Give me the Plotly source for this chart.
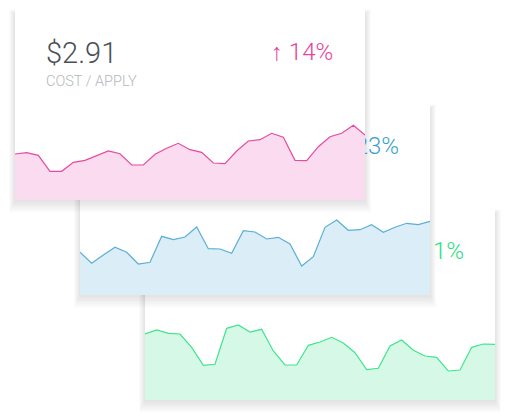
import plotly.graph_objects as go

W, H = 510, 420

# ---- data ----
pink_vals = [46, 47.3, 44.7, 28.7, 28.7, 37.7, 39.7, 44.3, 49, 46.3, 35, 35, 45.7, 51.7,
             56.7, 50.3, 47.7, 37, 36.3, 49, 59, 60.3, 66.7, 62.7, 39.7, 39.3, 53.3, 63.3,
             66.7, 74.7, 65]
blue_vals = [42.7, 31.7, 40, 47.7, 42.7, 31, 32.7, 58.7, 55.3, 58, 68, 46.3, 46, 41.7,
             64.3, 63, 56, 57.7, 51, 29, 38.3, 67.7, 75, 64.7, 65.3, 70.3, 62.7, 67.7,
             71.7, 70.3, 73.7]
green_vals = [66, 70, 66.7, 66, 52.7, 34.7, 35.7, 71.7, 75, 68, 70.7, 49, 35, 35, 54.7,
              58, 62.7, 57, 47.3, 30.3, 31.7, 54, 60, 49.7, 44, 42.7, 29, 30, 52.7, 56,
              55.7]
card_values = ["$2.91", "", ""]
card_labels = ["COST / APPLY", "", ""]
card_changes = ["\u2191 14%", "\u2191 23%", "\u2191 11%"]

series = [pink_vals, blue_vals, green_vals]
line_colors = ["#e84a9e", "#5aafd6", "#3ee58c"]
fill_colors = ["#fadbef", "#dbedf6", "#d6f9e7"]
text_colors = ["#e8439b", "#3a9fd0", "#2fe07f"]

# card geometry (pixels)
CW, CH = 350, 190
origins = [(15, 10), (80, 105), (145, 210)]


def fx(x):
    return x / W


def fy(y):
    return 1 - y / H


fig = go.Figure()
shapes = []
# draw bottom card first
for i in [2, 1, 0]:
    x0, y0 = origins[i]
    x1, y1 = x0 + CW, y0 + CH
    # soft shadow, mostly below the card
    for k in range(9):
        e = k + 1
        shapes.append(dict(type="rect", xref="paper", yref="paper", layer="below",
                           x0=fx(x0 - e * 0.7), x1=fx(x1 + e * 0.7),
                           y0=fy(y1 + 1 + e * 1.3), y1=fy(y0 + 3 - e * 0.4),
                           fillcolor="rgba(0,0,0,0.011)", line=dict(width=0)))
    shapes.append(dict(type="rect", xref="paper", yref="paper", layer="below",
                       x0=fx(x0), x1=fx(x1), y0=fy(y1), y1=fy(y0),
                       fillcolor="white", line=dict(width=0)))

layout_axes = {}
for i in range(3):
    x0, y0 = origins[i]
    n = len(series[i])
    ax = "" if i == 0 else str(i + 1)
    fig.add_trace(go.Scatter(
        x=list(range(n)), y=series[i], mode="lines", fill="tozeroy",
        line=dict(color=line_colors[i], width=1.2), fillcolor=fill_colors[i],
        xaxis="x" + ax, yaxis="y" + ax, hoverinfo="skip", showlegend=False))
    layout_axes["xaxis" + ax] = dict(domain=[fx(x0), fx(x0 + CW)], range=[0, n - 1],
                                     visible=False, fixedrange=True)
    layout_axes["yaxis" + ax] = dict(domain=[fy(y0 + CH), fy(y0)], range=[0, CH],
                                     visible=False, fixedrange=True)

# partially hidden change labels of the two lower cards, clipped at the
# right edge of the card lying on top of them
for i in [1, 2]:
    x0, y0 = origins[i]
    left = origins[i - 1][0] + CW
    right = x0 + CW
    ax = str(i + 3)
    fig.add_trace(go.Scatter(
        x=[right - 31], y=[y0 + 43], mode="text", text=[card_changes[i]],
        textposition="middle left",
        textfont=dict(family="Roboto", size=24, color=text_colors[i], weight=300),
        xaxis="x" + ax, yaxis="y" + ax, hoverinfo="skip", showlegend=False,
        cliponaxis=True))
    layout_axes["xaxis" + ax] = dict(domain=[fx(left), fx(right)], range=[left, right],
                                     visible=False, fixedrange=True)
    layout_axes["yaxis" + ax] = dict(domain=[fy(y0 + CH), fy(y0)], range=[y0 + CH, y0],
                                     visible=False, fixedrange=True)

x0, y0 = origins[0]
annotations = [
    dict(text=card_values[0], xref="paper", yref="paper", x=fx(x0 + 29), y=fy(y0 + 43),
         xanchor="left", yanchor="middle", showarrow=False,
         font=dict(family="Roboto", size=29, color="#4a4f57", weight=300)),
    dict(text=card_labels[0], xref="paper", yref="paper", x=fx(x0 + 29), y=fy(y0 + 72),
         xanchor="left", yanchor="middle", showarrow=False,
         font=dict(family="Roboto", size=14.5, color="#b4b7ba", weight=300)),
    dict(text=card_changes[0], xref="paper", yref="paper", x=fx(x0 + CW - 30), y=fy(y0 + 42),
         xanchor="right", yanchor="middle", showarrow=False,
         font=dict(family="Roboto", size=24, color=text_colors[0], weight=300)),
]

fig.update_layout(
    width=W, height=H, margin=dict(l=0, r=0, t=0, b=0),
    paper_bgcolor="white", plot_bgcolor="rgba(0,0,0,0)",
    template="none", shapes=shapes, annotations=annotations, showlegend=False,
    **layout_axes)

fig.write_html("out.html", config={"displayModeBar": False, "staticPlot": True},
               post_script="document.body.style.margin='0';")
